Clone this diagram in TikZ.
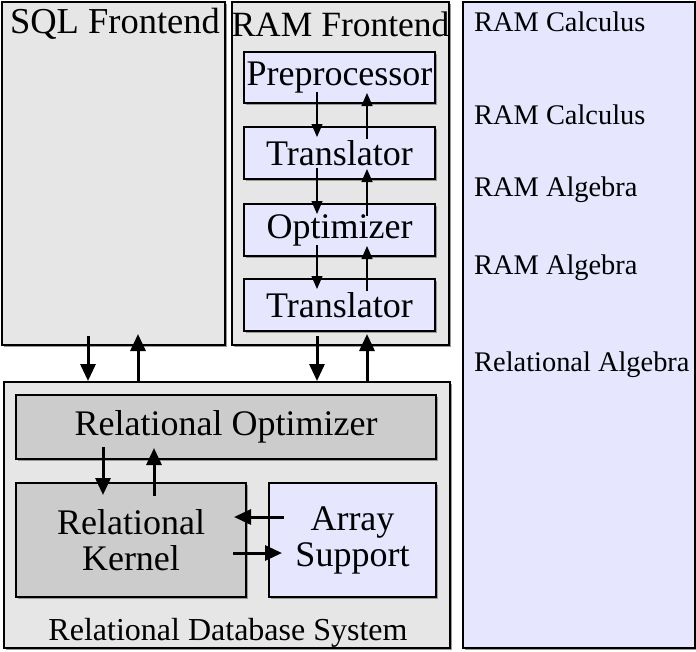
\documentclass[tikz,border=0pt]{standalone}
\usepackage{fontspec}
\setmainfont{Liberation Serif}
\usetikzlibrary{arrows.meta,shadows}
\definecolor{fegray}{HTML}{E6E6E6}
\definecolor{lav}{HTML}{E6E6FF}
\definecolor{dgray}{HTML}{CCCCCC}
\begin{document}
\begin{tikzpicture}[x=1pt,y=-1pt,
  box/.style={draw=black, line width=2pt, rectangle, inner sep=0pt,
    drop shadow={shadow xshift=2pt,shadow yshift=-2pt,fill=black!40,opacity=1}},
  bigtxt/.style={font=\fontsize{35.5}{36}\selectfont, inner sep=0pt, align=center},
  boxtxt/.style={font=\fontsize{36}{36}\selectfont, align=center},
  smalltxt/.style={font=\fontsize{28.4}{30}\selectfont, inner sep=0pt, anchor=west},
  bigarr/.style={line width=3pt, -{Triangle[length=17pt,width=15pt]}},
  smallarr/.style={line width=1.3pt, -{Triangle[length=13pt,width=11pt]}}]
\useasboundingbox (0,0) rectangle (696,651);
% outer boxes
\node[box, fill=fegray, minimum width=223pt, minimum height=343pt] (sql) at (113.5,173.5) {};
\node[box, fill=fegray, minimum width=217pt, minimum height=343pt] (ram) at (340.5,173.5) {};
\node[box, fill=fegray, minimum width=446pt, minimum height=266pt] (rdb) at (227,515) {};
\node[box, fill=lav, minimum width=232pt, minimum height=646pt] (panel) at (579,325) {};
% labels of outer boxes
\node[bigtxt, font=\fontsize{36.5}{36}\selectfont] (sqllab) at (115,24) {SQL Frontend};
\node[bigtxt] (ramlab) at (340.5,24) {RAM Frontend};
\node[bigtxt, font=\fontsize{32}{34}\selectfont] (rdblab) at (228,633) {Relational Database System};
% RAM frontend inner boxes
\node[box, boxtxt, fill=lav, minimum width=191pt, minimum height=51pt] (pre) at (339.5,77.5) {Preprocessor};
\node[box, boxtxt, fill=lav, minimum width=191pt, minimum height=52pt] (tr1) at (339.5,153) {Translator};
\node[box, boxtxt, fill=lav, minimum width=191pt, minimum height=52pt] (opt) at (339.5,230) {Optimizer};
\node[box, boxtxt, fill=lav, minimum width=191pt, minimum height=52pt] (tr2) at (339.5,305) {Translator};
% RDBMS inner boxes
\node[box, boxtxt, fill=dgray, minimum width=420pt, minimum height=64pt] (ropt) at (226,427) {Relational Optimizer};
\node[box, boxtxt, fill=dgray, minimum width=230pt, minimum height=114pt] (kern) at (131,540) {Relational\\Kernel};
\node[box, boxtxt, fill=lav, minimum width=167pt, minimum height=114pt] (arr) at (352.5,540) {Array\\Support};
% right panel texts
\node[smalltxt] (t1) at (474,22) {RAM Calculus};
\node[smalltxt] (t2) at (474,115) {RAM Calculus};
\node[smalltxt] (t3) at (474,190) {RAM Algebra};
\node[smalltxt] (t4) at (474,268) {RAM Algebra};
\node[smalltxt] (t5) at (474,365) {Relational Algebra};
% RAM internal arrows
\draw[smallarr] ([xshift=-22.5pt,yshift=12pt]pre.south) -- ([xshift=-22.5pt,yshift=-11pt]tr1.north);
\draw[smallarr] ([xshift=27.5pt,yshift=-13pt]tr1.north) -- ([xshift=27.5pt,yshift=11pt]pre.south);
\draw[smallarr] ([xshift=-22.5pt,yshift=12pt]tr1.south) -- ([xshift=-22.5pt,yshift=-11pt]opt.north);
\draw[smallarr] ([xshift=27.5pt,yshift=-13pt]opt.north) -- ([xshift=27.5pt,yshift=11pt]tr1.south);
\draw[smallarr] ([xshift=-22.5pt,yshift=12pt]opt.south) -- ([xshift=-22.5pt,yshift=-11pt]tr2.north);
\draw[smallarr] ([xshift=27.5pt,yshift=-13pt]tr2.north) -- ([xshift=27.5pt,yshift=11pt]opt.south);
% frontend <-> RDBMS
\draw[bigarr] ([xshift=-25.5pt,yshift=10pt]sql.south) -- ([xshift=-139pt]rdb.north);
\draw[bigarr] ([xshift=-89pt]rdb.north) -- ([xshift=24.5pt,yshift=12pt]sql.south);
\draw[bigarr] ([xshift=-23.5pt,yshift=10pt]ram.south) -- ([xshift=90pt]rdb.north);
\draw[bigarr] ([xshift=140pt]rdb.north) -- ([xshift=26.5pt,yshift=12pt]ram.south);
% RDBMS internal
\draw[bigarr] ([xshift=-123pt,yshift=13pt]ropt.south) -- ([xshift=-28pt,yshift=-13pt]kern.north);
\draw[bigarr] ([xshift=23pt,yshift=-14pt]kern.north) -- ([xshift=-72pt,yshift=12pt]ropt.south);
\draw[bigarr] ([xshift=16pt,yshift=23pt]arr.west) -- ([xshift=-13pt,yshift=23pt]kern.east);
\draw[bigarr] ([xshift=-14pt,yshift=-13pt]kern.east) -- ([xshift=14pt,yshift=-13pt]arr.west);
\end{tikzpicture}
\end{document}
